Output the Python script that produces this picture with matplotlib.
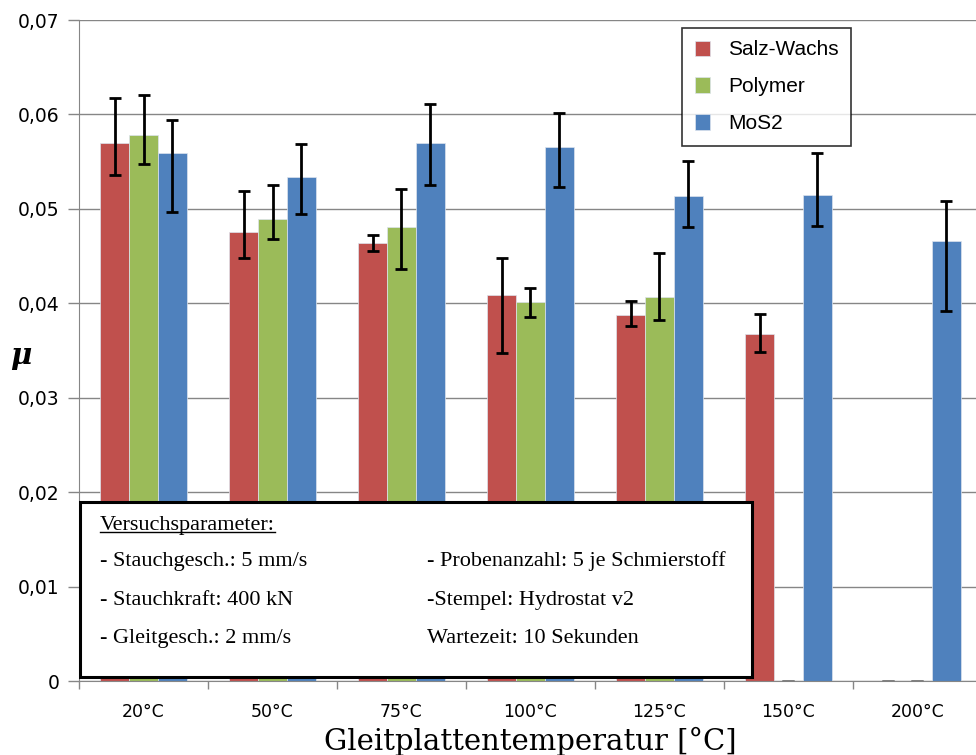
import matplotlib.pyplot as plt
import numpy as np
from matplotlib.patches import Rectangle
from matplotlib.ticker import FuncFormatter, MultipleLocator

temps = ['20°C', '50°C', '75°C', '100°C', '125°C', '150°C', '200°C']
series = ['Salz-Wachs', 'Polymer', 'MoS2']
colors = ['#C0504D', '#9BBB59', '#4F81BD']

# mean friction coefficient and error bar ends (low / high)
salz = [0.0570, 0.0476, 0.0464, 0.0409, 0.0388, 0.0367, 0.0]
salz_lo = [0.0536, 0.0448, 0.0455, 0.0347, 0.0376, 0.0348, 0.0]
salz_hi = [0.0617, 0.0519, 0.0472, 0.0448, 0.0402, 0.0389, 0.0]

poly = [0.0578, 0.0489, 0.0481, 0.0401, 0.0407, 0.0, 0.0]
poly_lo = [0.0548, 0.0468, 0.0436, 0.0385, 0.0382, 0.0, 0.0]
poly_hi = [0.0621, 0.0525, 0.0521, 0.0416, 0.0453, 0.0, 0.0]

mos2 = [0.0559, 0.0534, 0.0570, 0.0566, 0.0514, 0.0515, 0.0466]
mos2_lo = [0.0497, 0.0495, 0.0525, 0.0523, 0.0481, 0.0482, 0.0392]
mos2_hi = [0.0594, 0.0569, 0.0611, 0.0602, 0.0551, 0.0559, 0.0508]

params_left = ['- Stauchgesch.: 5 mm/s', '- Stauchkraft: 400 kN', '- Gleitgesch.: 2 mm/s']
params_right = ['- Probenanzahl: 5 je Schmierstoff', '-Stempel: Hydrostat v2', 'Wartezeit: 10 Sekunden']

fig = plt.figure(figsize=(9.76, 7.55), dpi=100)
ax = fig.add_axes([0.081, 0.098, 0.925, 0.8755])

x = np.arange(len(temps))
w = 0.224
data = [(salz, salz_lo, salz_hi), (poly, poly_lo, poly_hi), (mos2, mos2_lo, mos2_hi)]
for i, (vals, lo, hi) in enumerate(data):
    xs = x + (i - 1) * w
    vals = np.array(vals)
    ax.bar(xs, vals, w, color=colors[i], label=series[i], zorder=2,
           edgecolor='#dde4ee', linewidth=0.5)
    err = [vals - np.array(lo), np.array(hi) - vals]
    nz = vals > 0
    ax.errorbar(xs[nz], vals[nz], yerr=[err[0][nz], err[1][nz]], fmt='none',
                ecolor='black', elinewidth=2, capsize=4.5, capthick=2, zorder=3)
    ax.errorbar(xs[~nz], vals[~nz], yerr=0, fmt='none', ecolor='#808080',
                elinewidth=2, capsize=4.5, capthick=2, zorder=3)

ax.set_xlim(-0.5, len(temps) - 0.5)
ax.set_ylim(0, 0.07)
ax.yaxis.set_major_locator(MultipleLocator(0.01))
ax.yaxis.set_major_formatter(FuncFormatter(lambda v, p: '0' if v == 0 else f'{v:.2f}'.replace('.', ',')))
ax.grid(axis='y', color='#868686', linewidth=1, zorder=0)
ax.set_axisbelow(True)

ax.set_xticks(x)
ax.set_xticklabels(temps)
ax.set_xticks(np.arange(len(temps)) - 0.5, minor=True)
ax.tick_params(axis='x', which='major', length=0, pad=16, labelsize=12.5)
ax.tick_params(axis='x', which='minor', length=6, color='#868686', width=1)
ax.tick_params(axis='y', length=8, color='#868686', width=1, labelsize=13.5, pad=6)

for s in ['top', 'right']:
    ax.spines[s].set_visible(False)
ax.spines['left'].set_color('#868686')
ax.spines['bottom'].set_color('#868686')

ax.set_ylabel('μ', rotation=0, fontsize=21, style='italic', family='DejaVu Serif',
              fontweight='bold')
ax.yaxis.set_label_coords(-0.065, 0.47)
ax.set_xlabel('Gleitplattentemperatur [°C]', fontsize=21, family='DejaVu Serif')
ax.xaxis.set_label_coords(0.5, -0.07)

leg = ax.legend(loc='upper left', bbox_to_anchor=(0.668, 0.988),
                prop={'family': 'Liberation Sans', 'size': 15},
                frameon=True, fancybox=False, edgecolor='black', handlelength=0.75,
                handleheight=0.75, labelspacing=0.86, handletextpad=0.85,
                borderpad=0.6, borderaxespad=0)
leg.get_frame().set_linewidth(1.2)
leg.set_zorder(7)

# parameter box
ax.add_patch(Rectangle((0.001, 0.006), 0.744, 0.265, transform=ax.transAxes,
                       facecolor='white', edgecolor='black', linewidth=2.2, zorder=5))
tkw = dict(transform=ax.transAxes, family='Liberation Serif', fontsize=16,
           va='center', ha='left', zorder=6)
head = ax.text(0.0232, 0.236, 'Versuchsparameter:', **tkw)
ys = [0.1815, 0.1225, 0.065]
for yy, a, b in zip(ys, params_left, params_right):
    ax.text(0.0232, yy, a, **tkw)
    ax.text(0.385, yy, b, **tkw)

fig.canvas.draw()
bb = head.get_window_extent().transformed(ax.transAxes.inverted())
ax.plot([bb.x0, bb.x1], [bb.y0 + 0.004, bb.y0 + 0.004], transform=ax.transAxes,
        color='black', linewidth=1.0, zorder=6, clip_on=False)

fig.savefig('out.png', dpi=100)
